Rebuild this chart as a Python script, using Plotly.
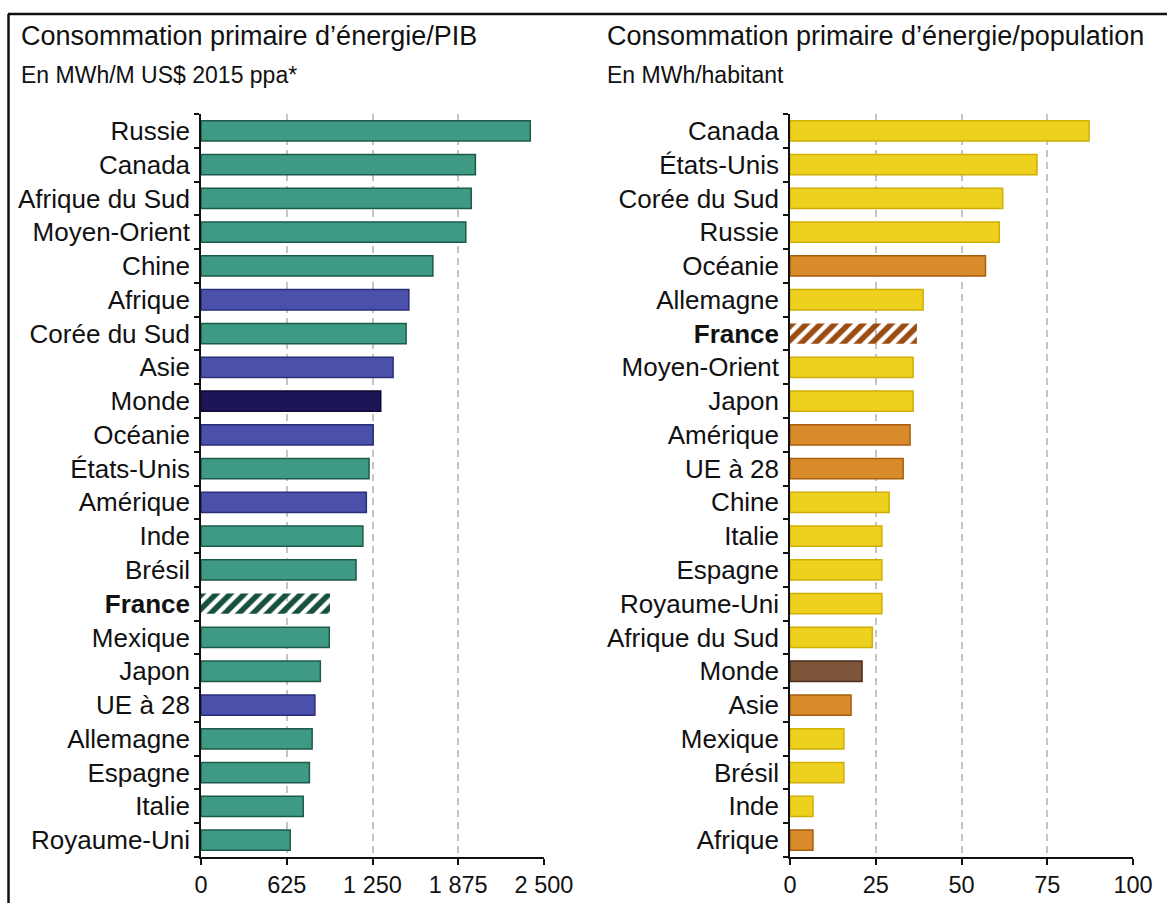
import plotly.graph_objects as go

# ---- Consommation primaire d'énergie / PIB (MWh / M US$ 2015 ppa) ----
pib_pays = ["Russie", "Canada", "Afrique du Sud", "Moyen-Orient", "Chine", "Afrique",
            "Corée du Sud", "Asie", "Monde", "Océanie", "États-Unis", "Amérique", "Inde",
            "Brésil", "France", "Mexique", "Japon", "UE à 28", "Allemagne", "Espagne",
            "Italie", "Royaume-Uni"]
pib_valeurs = [2400, 2000, 1970, 1930, 1690, 1515, 1495, 1400, 1310, 1255, 1225, 1205,
               1180, 1130, 940, 935, 870, 830, 810, 790, 745, 650]
pib_types = ["pays", "pays", "pays", "pays", "pays", "region", "pays", "region", "monde",
             "region", "pays", "region", "pays", "pays", "france", "pays", "pays", "region",
             "pays", "pays", "pays", "pays"]
pib_ticks = [0, 625, 1250, 1875, 2500]
pib_ticktext = ["0", "625", "1 250", "1 875", "2 500"]

# ---- Consommation primaire d'énergie / population (MWh / habitant) ----
pop_pays = ["Canada", "États-Unis", "Corée du Sud", "Russie", "Océanie", "Allemagne",
            "France", "Moyen-Orient", "Japon", "Amérique", "UE à 28", "Chine", "Italie",
            "Espagne", "Royaume-Uni", "Afrique du Sud", "Monde", "Asie", "Mexique",
            "Brésil", "Inde", "Afrique"]
pop_valeurs = [87.2, 72, 62, 61, 57, 38.8, 37, 35.9, 35.9, 35, 33, 28.9, 26.8, 26.8, 26.8,
               24, 21, 17.8, 15.7, 15.7, 6.7, 6.7]
pop_types = ["pays", "pays", "pays", "pays", "region", "pays", "france", "pays", "pays",
             "region", "region", "pays", "pays", "pays", "pays", "pays", "monde", "region",
             "pays", "pays", "pays", "region"]
pop_ticks = [0, 25, 50, 75, 100]
pop_ticktext = ["0", "25", "50", "75", "100"]

# fill / outline colours per bar type
pib_fill = {"pays": "#3f9a84", "region": "#4b50aa", "monde": "#1c1656", "france": "#17503f"}
pib_line = {"pays": "#1d5a4a", "region": "#2a2d78", "monde": "#0e0a35", "france": "#17503f"}
pop_fill = {"pays": "#eed11f", "region": "#d98a2b", "monde": "#7d5538", "france": "#9a4c12"}
pop_line = {"pays": "#cfae05", "region": "#a8600f", "monde": "#4a2c18", "france": "#9a4c12"}

FONT = "Liberation Sans, Arial, sans-serif"
W, H = 1167, 903


def label(name):
    return "<b>France</b>" if name == "France" else name


def bar_trace(names, values, types, fill, line, xaxis, yaxis):
    return go.Bar(
        y=[label(n) for n in names],
        x=values,
        orientation="h",
        width=0.6,
        marker=dict(
            color=[fill[t] for t in types],
            line=dict(color=[line[t] for t in types],
                      width=[0 if t == "france" else 1.5 for t in types]),
            pattern=dict(shape=["/" if t == "france" else "" for t in types],
                         size=10, solidity=0.55),
        ),
        xaxis=xaxis, yaxis=yaxis,
        showlegend=False, hoverinfo="x+y",
    )


fig = go.Figure()
fig.add_trace(bar_trace(pib_pays, pib_valeurs, pib_types, pib_fill, pib_line, "x", "y"))
fig.add_trace(bar_trace(pop_pays, pop_valeurs, pop_types, pop_fill, pop_line, "x2", "y2"))

ydom = [1 - 857 / H, 1 - 114 / H]


def xaxis_cfg(domain, rng, ticks, ticktext, anchor):
    return dict(
        domain=domain, anchor=anchor, range=rng, automargin=False,
        tickmode="array", tickvals=ticks, ticktext=ticktext,
        showgrid=True, gridcolor="#c4c4c4", griddash="7px,5px", gridwidth=1.5,
        zeroline=False, showline=True, linecolor="#111111", linewidth=1.5,
        ticks="outside", ticklen=6, tickcolor="#111111", tickwidth=1.5,
        tickfont=dict(family=FONT, size=23.5, color="#111111"), fixedrange=True,
    )


def yaxis_cfg(names, anchor):
    return dict(
        domain=ydom, anchor=anchor, type="category", automargin=False,
        categoryorder="array", categoryarray=[label(n) for n in names][::-1],
        tickson="boundaries", ticks="outside", ticklen=5, tickcolor="#111111", tickwidth=1.5,
        showline=True, linecolor="#111111", linewidth=1.5, showgrid=False, zeroline=False,
        tickfont=dict(family=FONT, size=26, color="#111111"), ticklabelstandoff=4,
        range=[-0.5, len(names) - 0.5], fixedrange=True,
    )


fig.update_layout(
    template="none",
    width=W, height=H, autosize=False,
    margin=dict(l=0, r=0, t=0, b=0, pad=0, autoexpand=False),
    paper_bgcolor="white", plot_bgcolor="white",
    bargap=0.4,
    xaxis=xaxis_cfg([201 / W, 544 / W], [0, 2500], pib_ticks, pib_ticktext, "y"),
    yaxis=yaxis_cfg(pib_pays, "x"),
    xaxis2=xaxis_cfg([790 / W, 1133 / W], [0, 100], pop_ticks, pop_ticktext, "y2"),
    yaxis2=yaxis_cfg(pop_pays, "x2"),
)

# panel titles
titles = [
    (19 / W, "Consommation primaire d’énergie/PIB", "En MWh/M US$ 2015 ppa*"),
    (605 / W, "Consommation primaire d’énergie/population", "En MWh/habitant"),
]
for x, title, sub in titles:
    fig.add_annotation(xref="paper", yref="paper", x=x, y=1 - 36 / H, text=title,
                       showarrow=False, xanchor="left", yanchor="middle",
                       font=dict(family=FONT, size=27, color="#111111"))
    fig.add_annotation(xref="paper", yref="paper", x=x, y=1 - 75 / H, text=sub,
                       showarrow=False, xanchor="left", yanchor="middle",
                       font=dict(family=FONT, size=23, color="#111111"))

# frame around the figure (top and left edges)
fig.add_shape(type="line", xref="paper", yref="paper", x0=8 / W, x1=1.02,
              y0=1 - 14 / H, y1=1 - 14 / H, line=dict(color="#111111", width=2.5))
fig.add_shape(type="line", xref="paper", yref="paper", x0=8.5 / W, x1=8.5 / W,
              y0=-0.02, y1=1 - 14 / H, line=dict(color="#111111", width=2.5))

fig.write_html("out.html", config={"displayModeBar": False})
